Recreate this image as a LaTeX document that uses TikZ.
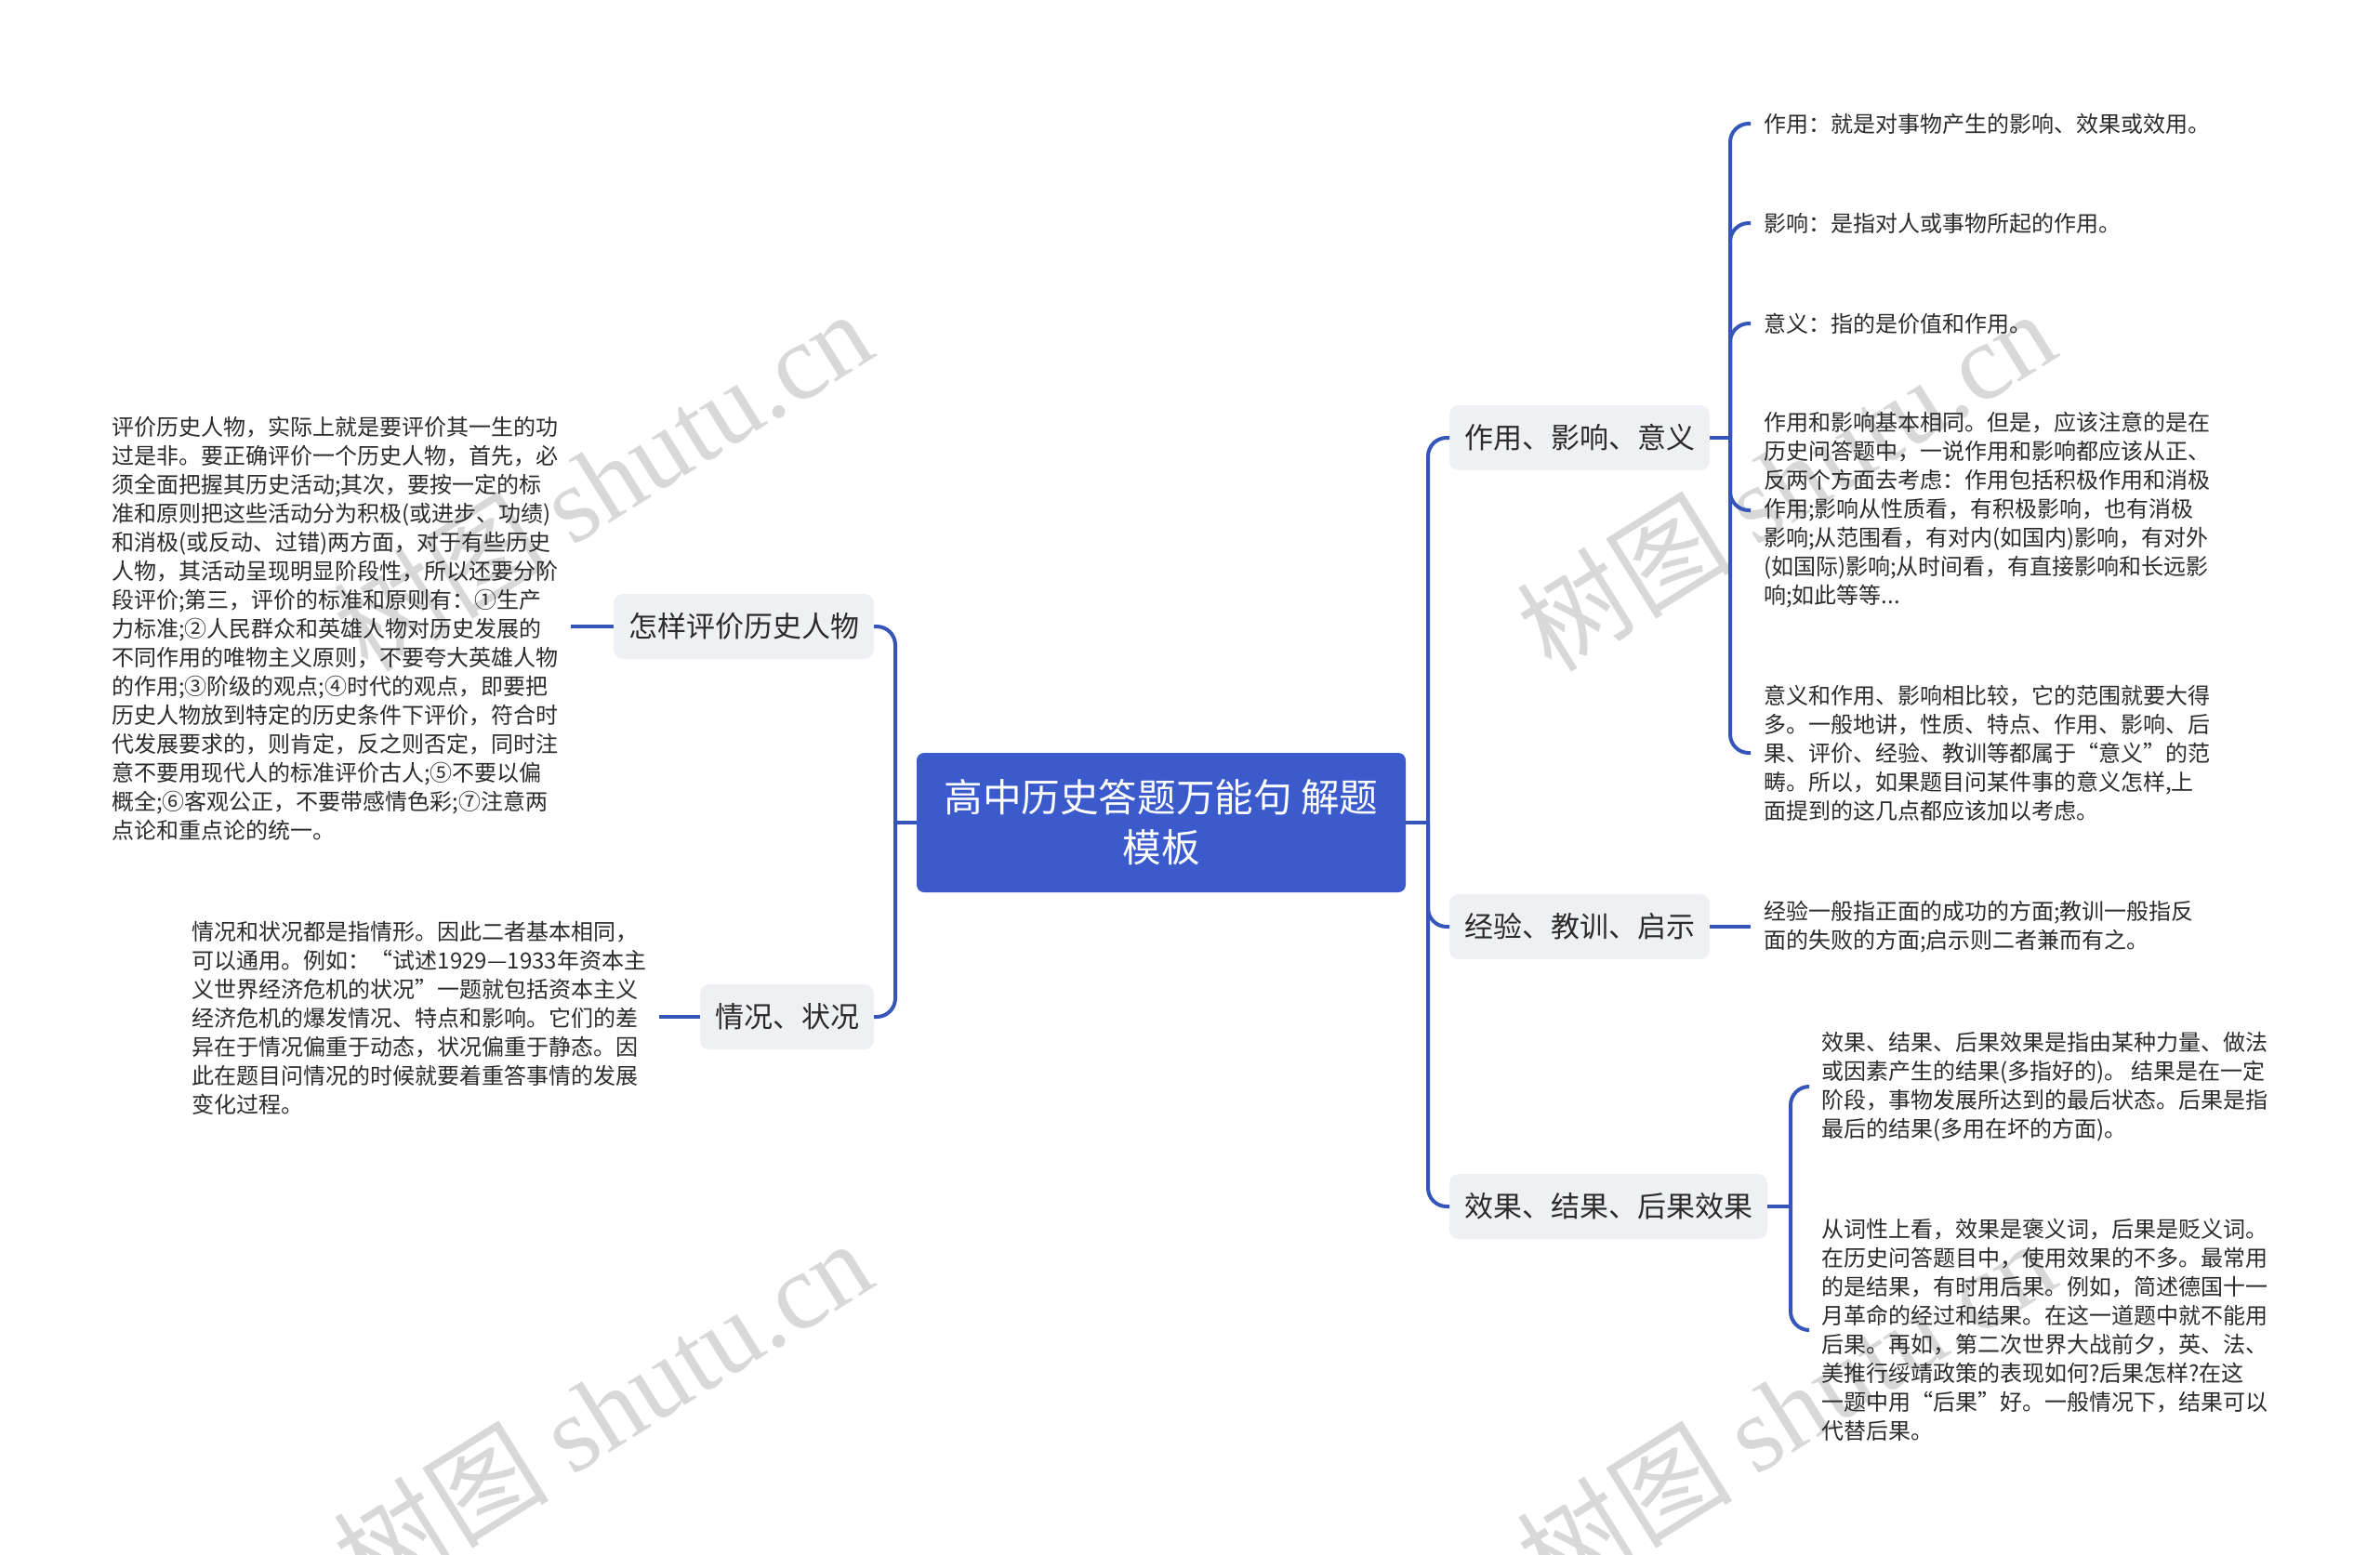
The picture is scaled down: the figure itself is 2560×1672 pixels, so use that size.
\documentclass[tikz,border=0pt]{standalone}
\usepackage{fontspec}
\setmainfont{Noto Sans CJK SC}
\newfontfamily\wmfont{Liberation Serif}
\definecolor{rootblue}{HTML}{3B5BCC}
\definecolor{linkblue}{HTML}{3555B8}
\definecolor{topicgray}{HTML}{EEF0F3}
\definecolor{textgray}{HTML}{2B2B2B}
\definecolor{markgray}{HTML}{D8D8D8}

\begin{document}
\begin{tikzpicture}[x=0.5pt, y=-0.5pt,
          every node/.style = {inner sep = 0pt,
                               outer sep = 0pt},
          rootbox/.style    = {fill = rootblue,
                               text = white,
                               rounded corners = 4pt,
                               minimum width  = 263pt,
                               minimum height = 75pt,
                               align = center,
                               font = \fontsize{20.8}{27}\selectfont},
          topic/.style      = {fill = topicgray,
                               text = textgray,
                               rounded corners = 5pt,
                               inner xsep = 8pt,
                               minimum height = 35pt,
                               font = \fontsize{15.5}{19}\selectfont},
          leaftext/.style   = {text = textgray,
                               align = left,
                               outer xsep = 7pt,
                               font = \fontsize{12}{15.5}\selectfont},
          branch/.style     = {draw = linkblue,
                               line width = 2pt,
                               rounded corners = 10pt},
          wmark/.style      = {text = markgray,
                               rotate = 32,
                               font = \fontsize{58}{58}\selectfont}]

\useasboundingbox (0,0) rectangle (2560,1672);
\clip (0,0) rectangle (2560,1672);

  \node[wmark] (wm1) at (648,516)   {树图 {\wmfont shutu.cn}};
  \node[wmark] (wm2) at (1921,516)  {树图 {\wmfont shutu.cn}};
  \node[wmark] (wm3) at (648,1516)  {树图 {\wmfont shutu.cn}};
  \node[wmark] (wm4) at (1921,1516) {树图 {\wmfont shutu.cn}};

  \node[rootbox] (root) at (1249,885) {高中历史答题万能句 解题\\模板};

  \node[topic, anchor = east] (judge)  at (940,674)   {怎样评价历史人物};
  \node[topic, anchor = east] (state)  at (940,1094)  {情况、状况};
  \node[topic, anchor = west] (role)   at (1559,471)  {作用、影响、意义};
  \node[topic, anchor = west] (lesson) at (1559,997)  {经验、教训、启示};
  \node[topic, anchor = west] (result) at (1559,1298) {效果、结果、后果效果};

  \node[leaftext, anchor = east] (judge txt) at (614,676) {%
    评价历史人物，实际上就是要评价其一生的功\\
    过是非。要正确评价一个历史人物，首先，必\\
    须全面把握其历史活动;其次，要按一定的标\\
    准和原则把这些活动分为积极(或进步、功绩)\\
    和消极(或反动、过错)两方面，对于有些历史\\
    人物，其活动呈现明显阶段性，所以还要分阶\\
    段评价;第三，评价的标准和原则有：①生产\\
    力标准;②人民群众和英雄人物对历史发展的\\
    不同作用的唯物主义原则，不要夸大英雄人物\\
    的作用;③阶级的观点;④时代的观点，即要把\\
    历史人物放到特定的历史条件下评价，符合时\\
    代发展要求的，则肯定，反之则否定，同时注\\
    意不要用现代人的标准评价古人;⑤不要以偏\\
    概全;⑥客观公正，不要带感情色彩;⑦注意两\\
    点论和重点论的统一。};
  \node[leaftext, anchor = east] (state txt) at (709,1095) {%
    情况和状况都是指情形。因此二者基本相同，\\
    可以通用。例如：“试述1929—1933年资本主\\
    义世界经济危机的状况”一题就包括资本主义\\
    经济危机的爆发情况、特点和影响。它们的差\\
    异在于情况偏重于动态，状况偏重于静态。因\\
    此在题目问情况的时候就要着重答事情的发展\\
    变化过程。};

  \node[leaftext, anchor = west] (role a) at (1883,133) {作用：就是对事物产生的影响、效果或效用。};
  \node[leaftext, anchor = west] (role b) at (1883,240) {影响：是指对人或事物所起的作用。};
  \node[leaftext, anchor = west] (role c) at (1883,348) {意义：指的是价值和作用。};
  \node[leaftext, anchor = west] (role d) at (1883,549) {%
    作用和影响基本相同。但是，应该注意的是在\\
    历史问答题中，一说作用和影响都应该从正、\\
    反两个方面去考虑：作用包括积极作用和消极\\
    作用;影响从性质看，有积极影响，也有消极\\
    影响;从范围看，有对内(如国内)影响，有对外\\
    (如国际)影响;从时间看，有直接影响和长远影\\
    响;如此等等...};
  \node[leaftext, anchor = west] (role e) at (1883,810) {%
    意义和作用、影响相比较，它的范围就要大得\\
    多。一般地讲，性质、特点、作用、影响、后\\
    果、评价、经验、教训等都属于“意义”的范\\
    畴。所以，如果题目问某件事的意义怎样,上\\
    面提到的这几点都应该加以考虑。};
  \node[leaftext, anchor = west] (lesson txt) at (1883,997) {%
    经验一般指正面的成功的方面;教训一般指反\\
    面的失败的方面;启示则二者兼而有之。};
  \node[leaftext, anchor = west] (result a) at (1945,1169) {%
    效果、结果、后果效果是指由某种力量、做法\\
    或因素产生的结果(多指好的)。 结果是在一定\\
    阶段，事物发展所达到的最后状态。后果是指\\
    最后的结果(多用在坏的方面)。};
  \node[leaftext, anchor = west] (result b) at (1945,1431) {%
    从词性上看，效果是褒义词，后果是贬义词。\\
    在历史问答题目中，使用效果的不多。最常用\\
    的是结果，有时用后果。例如，简述德国十一\\
    月革命的经过和结果。在这一道题中就不能用\\
    后果。再如，第二次世界大战前夕，英、法、\\
    美推行绥靖政策的表现如何?后果怎样?在这\\
    一题中用“后果”好。一般情况下，结果可以\\
    代替后果。};

\path (963,885)  coordinate (ljoin)
      (1536,885) coordinate (rjoin)
      (1861,471) coordinate (role join)
      (1926,1298) coordinate (result join);

  \draw[branch] (root.west) -- (ljoin);
  \draw[branch] (ljoin) |- (judge.east);
  \draw[branch] (ljoin) |- (state.east);
  \draw[branch] (root.east) -- (rjoin);
  \draw[branch] (rjoin) |- (role.west);
  \draw[branch] (rjoin) |- (lesson.west);
  \draw[branch] (rjoin) |- (result.west);

  \draw[branch] (judge.west) -- (judge.west -| judge txt.east);
  \draw[branch] (state.west) -- (state.west -| state txt.east);

  \draw[branch] (role.east) -- (role join);
  \foreach \leaf in {a,b,c,d,e}
    \draw[branch] (role join) |- (role \leaf.west);
  \draw[branch] (lesson.east) -- (lesson txt.west);
  \draw[branch] (result.east) -- (result join);
  \draw[branch] (result join) |- (result a.west);
  \draw[branch] (result join) |- (result b.west);
\end{tikzpicture}
\end{document}
